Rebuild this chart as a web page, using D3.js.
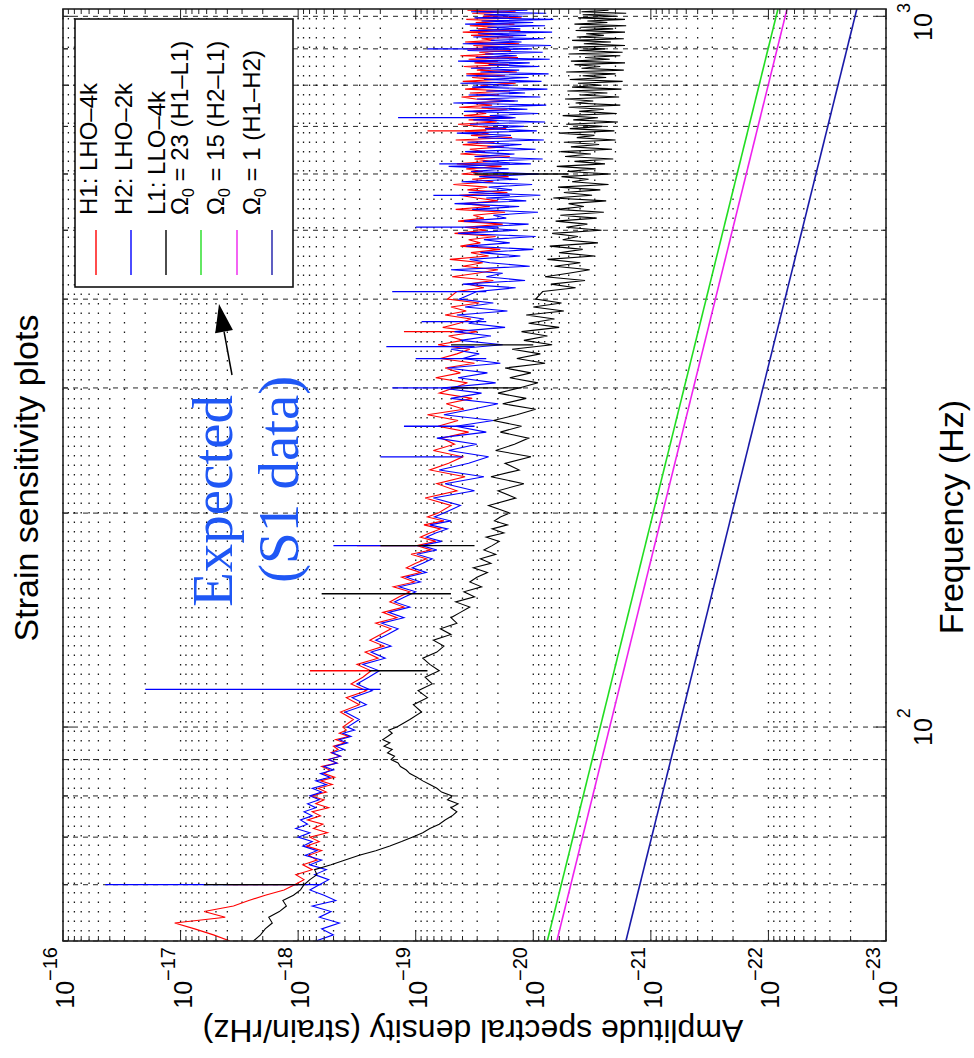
<!DOCTYPE html>
<html>
<head>
<meta charset="utf-8">
<script src="https://cdn.jsdelivr.net/npm/d3@7"></script>
<style>
  body { margin: 0; background: #fff; }
  svg { display: block; }
</style>
</head>
<body>
<svg id="chart" width="974" height="1058"></svg>
<script>
// frequency bins (Hz) shared by the three detector spectra
var freqs = [
  50,51,52,53,54,55,56,57,58,59,60,61,62,63,64,65,66,67,68,69,70,71,72,73,74,75,76,77,78,79,80,
  81,82,83,84,85,86,87,88,89,90,91,92,93,94,95,96,97,98,99,100,
  102.5,105,107.5,110,112.5,115,117.5,120,122.5,125,127.5,130,132.5,135,137.5,140,142.5,145,147.5,150,
  152.5,155,157.5,160,162.5,165,167.5,170,172.5,175,177.5,180,182.5,185,187.5,190,192.5,195,197.5,200,
  205,210,215,220,225,230,235,240,245,250,255,260,265,270,275,280,285,290,295,300,
  305,310,315,320,325,330,335,340,345,350,355,360,365,370,375,380,385,390,395,400,
  410,415,420,425,430,435,440,445,450,455,460,465,470,475,480,485,490,495,500,505,
  510,515,520,525,530,535,540,545,550,555,560,565,570,575,580,585,590,595,600,605,
  610,615,620,625,630,635,640,645,650,655,660,665,670,675,680,685,690,695,700,705,
  710,715,720,725,730,735,740,745,750,755,760,765,770,775,780,785,790,795,800,805,
  810,815,820,825,830,835,840,845,850,855,860,865,870,875,880,885,890,895,900,905,
  910,915,920,925,930,935,940,945,950,955,960,965,970,975,980,985,990,995,1000,1005,
  1010,1015,1020
];

// log10 of amplitude spectral density (strain/rHz), one value per bin
var h1Exp = [
  -17.42,-17.28,-17.12,-16.95,-17.38,-17.20,-17.45,-17.58,-17.72,-17.88,-17.97,-18.05,-17.98,-18.12,-18.04,-18.16,
  -18.09,-18.20,-18.07,-18.18,-18.10,-18.25,-18.13,-18.21,-18.08,-18.19,-18.12,-18.26,-18.15,-18.22,-18.11,-18.24,
  -18.17,-18.29,-18.19,-18.31,-18.22,-18.27,-18.20,-18.33,-18.25,-18.36,-18.28,-18.34,-18.30,-18.40,-18.32,-18.43,
  -18.35,-18.41,-18.38,
  -18.47,-18.36,-18.52,-18.41,-18.58,-18.45,-18.55,-18.62,-18.50,-18.68,-18.57,-18.73,-18.61,-18.70,-18.79,-18.66,
  -18.84,-18.72,-18.90,-18.78,-18.86,-18.95,-18.81,-18.99,-18.88,-19.04,-18.92,-19.00,-19.09,-18.96,-19.13,-19.01,
  -19.17,-19.04,-19.12,-19.21,-19.07,-19.24,-19.10,-19.19,
  -19.30,-19.08,-19.35,-19.18,-19.42,-19.12,-19.28,-19.40,-19.15,-19.33,-19.22,-19.45,-19.19,-19.36,-19.10,-19.41,
  -19.26,-19.48,-19.20,-19.32,-19.44,-19.17,-19.38,-19.25,-19.50,-19.21,-19.35,-19.46,-19.19,-19.40,-19.28,-19.52,
  -19.23,-19.37,-19.47,-19.25,-19.43,-19.30,-19.54,-19.27,
  -19.35,-19.58,-19.44,-19.66,-19.31,-19.52,-19.70,-19.40,-19.57,-19.29,-19.62,-19.47,
  -19.72,-19.38,-19.55,-19.45,-19.68,-19.33,-19.60,-19.42,-19.74,-19.36,-19.58,-19.49,
  -19.76,-19.34,-19.63,-19.41,-19.70,-19.52,-19.37,-19.78,-19.44,-19.61,-19.32,-19.66,
  -19.48,-19.79,-19.39,-19.57,-19.43,-19.73,-19.35,-19.64,-19.50,-19.80,-19.38,-19.59,
  -19.46,-19.75,-19.40,-19.67,-19.34,-19.82,-19.47,-19.62,-19.42,-19.77,-19.53,-19.36,
  -19.69,-19.45,-19.83,-19.41,-19.60,-19.49,-19.78,-19.37,-19.65,-19.44,-19.84,-19.51,
  -19.39,-19.71,-19.46,-19.80,-19.42,-19.63,-19.55,-19.85,-19.40,-19.68,-19.48,-19.76,
  -19.43,-19.86,-19.52,-19.64,-19.41,-19.79,-19.50,-19.70,-19.45,-19.87,-19.38,-19.66,
  -19.54,-19.81,-19.44,-19.72,-19.49,-19.88,-19.42,-19.67,-19.56,-19.83,-19.47,-19.74,
  -19.40,-19.89,-19.53,-19.69,-19.46,-19.84,-19.51,-19.75,-19.43,-19.90,-19.57,-19.71,
  -19.48,-19.85,-19.44
];
var h2Exp = [
  -18.15,-18.30,-18.20,-18.35,-18.18,-18.28,-18.12,-18.32,-18.22,-18.10,-18.18,-18.26,-18.14,-18.24,-18.10,-18.20,
  -18.06,-18.16,-18.04,-18.12,-18.00,-18.10,-17.98,-18.08,-18.02,-18.12,-18.05,-18.15,-18.08,-18.18,-18.10,-18.20,
  -18.12,-18.24,-18.15,-18.27,-18.19,-18.30,-18.22,-18.33,-18.26,-18.36,-18.29,-18.39,-18.32,-18.42,-18.35,-18.45,
  -18.38,-18.48,-18.42,
  -18.52,-18.40,-18.58,-18.46,-18.63,-18.50,-18.60,-18.69,-18.55,-18.74,-18.62,-18.79,-18.66,-18.76,-18.85,-18.71,
  -18.90,-18.77,-18.95,-18.82,-18.91,-19.00,-18.86,-19.04,-18.92,-19.09,-18.97,-19.06,-19.14,-19.01,-19.18,-19.05,
  -19.22,-19.09,-19.17,-19.27,-19.12,-19.30,-19.16,-19.24,
  -19.38,-19.15,-19.50,-19.25,-19.58,-19.20,-19.45,-19.62,-19.28,-19.52,-19.18,-19.60,-19.34,-19.66,-19.24,-19.48,
  -19.70,-19.30,-19.56,-19.22,-19.68,-19.36,-19.61,-19.27,-19.72,-19.40,-19.54,-19.30,-19.74,-19.38,-19.64,-19.33,
  -19.76,-19.45,-19.58,-19.35,-19.78,-19.42,-19.66,-19.37,
  -19.52,-19.85,-19.40,-19.93,-19.60,-19.74,-19.30,-19.97,-19.63,-19.46,-19.89,-19.55,
  -20.00,-19.43,-19.80,-19.58,-20.02,-19.36,-19.86,-19.51,-19.96,-19.41,-19.77,-19.66,
  -20.04,-19.48,-19.88,-19.33,-19.94,-19.60,-20.06,-19.45,-19.82,-19.62,-19.99,-19.39,
  -19.87,-19.54,-20.05,-19.47,-19.79,-19.28,-19.98,-19.57,-20.08,-19.50,-19.84,-19.42,
  -20.02,-19.61,-19.90,-19.44,-20.09,-19.53,-19.81,-19.35,-20.03,-19.59,-19.92,-19.46,
  -20.10,-19.49,-19.85,-19.63,-20.04,-19.41,-19.95,-19.56,-20.11,-19.32,-19.87,-19.52,
  -20.06,-19.45,-19.93,-19.60,-20.12,-19.48,-19.83,-19.38,-20.07,-19.58,-19.96,-19.43,
  -20.13,-19.55,-19.88,-19.47,-20.05,-19.62,-19.97,-19.36,-20.14,-19.51,-19.86,-19.59,
  -20.08,-19.44,-19.99,-19.57,-20.15,-19.40,-19.90,-19.64,-20.09,-19.49,-19.94,-19.53,
  -20.16,-19.46,-19.89,-19.61,-20.10,-19.42,-20.00,-19.56,-20.17,-19.50,-19.91,-19.58,
  -20.11,-19.47,-19.95
];
var l1Exp = [
  -17.62,-17.68,-17.72,-17.78,-17.75,-17.84,-17.90,-17.87,-17.96,-18.02,-18.05,-18.10,-18.16,-18.14,-18.28,-18.40,
  -18.52,-18.66,-18.78,-18.88,-18.97,-19.06,-19.12,-19.20,-19.25,-19.31,-19.35,-19.30,-19.36,-19.27,-19.31,-19.22,
  -19.18,-19.12,-19.06,-19.01,-18.95,-18.92,-18.87,-18.85,-18.79,-18.82,-18.76,-18.80,-18.73,-18.78,-18.72,-18.76,
  -18.80,-18.77,-18.84,
  -18.95,-19.05,-18.98,-19.10,-19.02,-19.14,-19.08,-19.20,-19.12,-19.06,-19.18,-19.24,-19.15,-19.30,-19.21,-19.35,
  -19.30,-19.38,-19.46,-19.34,-19.50,-19.41,-19.56,-19.46,-19.52,-19.61,-19.49,-19.64,-19.55,-19.68,-19.58,-19.65,
  -19.71,-19.60,-19.75,-19.65,-19.78,-19.67,-19.72,-19.80,
  -19.62,-19.85,-19.70,-19.92,-19.64,-19.88,-19.76,-19.98,-19.68,-19.84,-19.96,-19.72,-19.90,-19.66,-19.86,-20.02,
  -19.74,-19.94,-19.70,-19.88,-20.04,-19.80,-19.98,-19.76,-20.10,-19.86,-20.06,-19.82,-20.16,-19.92,-20.12,-19.90,
  -20.22,-19.96,-20.18,-19.94,-20.26,-20.00,-20.24,-20.02,
  -20.08,-20.36,-20.15,-20.44,-20.10,-20.30,-20.48,-20.18,-20.40,-20.12,-20.52,-20.22,
  -20.42,-20.14,-20.55,-20.25,-20.38,-20.16,-20.58,-20.28,-20.46,-20.19,-20.54,-20.23,
  -20.60,-20.20,-20.43,-20.30,-20.62,-20.17,-20.50,-20.26,-20.57,-20.21,-20.64,-20.33,
  -20.47,-20.24,-20.66,-20.29,-20.53,-20.20,-20.61,-20.35,-20.68,-20.27,-20.49,-20.23,
  -20.67,-20.32,-20.56,-20.26,-20.70,-20.37,-20.52,-20.22,-20.69,-20.31,-20.59,-20.28,
  -20.72,-20.34,-20.55,-20.25,-20.71,-20.39,-20.60,-20.30,-20.74,-20.36,-20.51,-20.27,
  -20.73,-20.40,-20.63,-20.29,-20.75,-20.33,-20.58,-20.38,-20.76,-20.31,-20.62,-20.42,
  -20.70,-20.28,-20.77,-20.41,-20.57,-20.35,-20.78,-20.32,-20.65,-20.44,-20.74,-20.30,
  -20.76,-20.39,-20.61,-20.34,-20.78,-20.43,-20.66,-20.33,-20.77,-20.37,-20.60,-20.45,
  -20.78,-20.36,-20.68,-20.40,-20.79,-20.35,-20.63,-20.46,-20.78,-20.38,-20.71,-20.42,
  -20.79,-20.41,-20.64
];

// narrow spectral lines: [frequency, low log10 ASD, high log10 ASD]
var h1Spikes = [[60,-18.0,-17.4],[120,-18.6,-18.1],[180,-19.0,-18.5],[360,-19.4,-18.9],[690,-19.6,-19.1]];
var h2Spikes = [[60,-18.2,-16.36],[113,-18.7,-16.7],[180,-19.1,-18.3],[240,-19.4,-18.7],[300,-19.5,-18.8],
                [343,-19.5,-18.75],[410,-19.6,-18.8],[505,-19.7,-19.0],[720,-19.8,-18.85],[900,-19.8,-19.1],
                [265,-19.5,-18.9],[330,-19.6,-19.0],[372,-19.6,-19.05],[560,-19.8,-19.15],[620,-19.8,-19.2]];
var l1Spikes = [[60,-18.05,-17.2],[120,-19.1,-18.6],[154,-19.3,-18.2],[180,-19.5,-18.7],[300,-19.9,-19.3],
                [345,-20.0,-19.3],[600,-20.3,-19.5]];

// expected stochastic background curves (end points)
var omegaFreqs = [50, 1024];
var omega23 = [7.6e-21, 8.3e-23];
var omega15 = [6.3e-21, 6.95e-23];
var omega1  = [1.63e-21, 1.77e-23];

var legendLabels = ["H1: LHO\u20134k", "H2: LHO\u20132k", "L1: LLO\u20134k",
                    " = 23 (H1\u2013L1)", " = 15 (H2\u2013L1)", " = 1 (H1\u2013H2)"];
var legendColors = ["#ff0000", "#0000ff", "#000000", "#22dd22", "#ee22ee", "#1a1aa8"];

var ampTickVals = [1e-16,1e-17,1e-18,1e-19,1e-20,1e-21,1e-22,1e-23];
var ampTickExps = ["\u221216","\u221217","\u221218","\u221219","\u221220","\u221221","\u221222","\u221223"];
var freqTickVals = [100, 1000];
var freqTickExps = ["2", "3"];

// ---- figure drawn in its own (landscape) frame, then turned a quarter turn ----
var FIG_W = 1058, FIG_H = 974;
var sans = "'Liberation Sans', Arial, Helvetica, sans-serif";
var serif = "'Liberation Serif', 'Times New Roman', serif";

var svg = d3.select("#chart");
svg.append("rect").attr("width", 974).attr("height", 1058).attr("fill", "#fff");

var fig = svg.append("g").attr("transform", "translate(0," + FIG_W + ") rotate(-90)");

var L = 117, R = 1049, T = 63, B = 886;
var x = d3.scaleLog().domain([50, 1024]).range([L, R]);
var y = d3.scaleLog().domain([1e-23, 1e-16]).range([B, T]);

var isDecade = function(v){ return Math.abs(Math.log10(v) - Math.round(Math.log10(v))) < 1e-6; };

// grid
var grid = fig.append("g");
grid.selectAll(".gf").data(x.ticks()).enter().append("line")
  .attr("x1", d => x(d)).attr("x2", d => x(d)).attr("y1", T).attr("y2", B)
  .attr("stroke", "#000").attr("stroke-width", 1).attr("stroke-dasharray", "5,5").attr("opacity", 0.85);
grid.selectAll(".ga").data(y.ticks()).enter().append("line")
  .attr("x1", L).attr("x2", R).attr("y1", d => y(d)).attr("y2", d => y(d))
  .attr("stroke", "#000").attr("stroke-width", 1.3).attr("stroke-dasharray", "1.5,8").attr("opacity", 0.9);

// data
fig.append("clipPath").attr("id", "plotclip").append("rect")
  .attr("x", L).attr("y", T).attr("width", R - L).attr("height", B - T);
var plot = fig.append("g").attr("clip-path", "url(#plotclip)");

var line = d3.line().x(d => x(d[0])).y(d => y(Math.pow(10, d[1])));
function spectrum(vals, spikes, color) {
  var n = Math.min(freqs.length, vals.length);
  var pts = [];
  for (var i = 0; i < n; i++) pts.push([freqs[i], vals[i]]);
  plot.append("path").datum(pts).attr("d", line)
    .attr("fill", "none").attr("stroke", color).attr("stroke-width", 1.1);
  plot.selectAll(null).data(spikes).enter().append("line")
    .attr("x1", d => x(d[0])).attr("x2", d => x(d[0]))
    .attr("y1", d => y(Math.pow(10, d[1]))).attr("y2", d => y(Math.pow(10, d[2])))
    .attr("stroke", color).attr("stroke-width", 1.3);
}
spectrum(h1Exp, h1Spikes, "#ff0000");
spectrum(h2Exp, h2Spikes, "#0000ff");
spectrum(l1Exp, l1Spikes, "#000000");

var straight = d3.line().x(d => x(d[0])).y(d => y(d[1]));
[[omega23, legendColors[3]], [omega15, legendColors[4]], [omega1, legendColors[5]]].forEach(function(s){
  plot.append("path").datum(omegaFreqs.map((f, i) => [f, s[0][i]])).attr("d", straight)
    .attr("fill", "none").attr("stroke", s[1]).attr("stroke-width", 1.6);
});

// ticks (inside, all four sides) and box
var ax = fig.append("g").attr("stroke", "#222");
x.ticks().forEach(function(f){
  var len = isDecade(f) ? 10 : 5;
  ax.append("line").attr("x1", x(f)).attr("x2", x(f)).attr("y1", B).attr("y2", B - len);
  ax.append("line").attr("x1", x(f)).attr("x2", x(f)).attr("y1", T).attr("y2", T + len);
});
y.ticks().forEach(function(a){
  var len = isDecade(a) ? 10 : 5;
  ax.append("line").attr("x1", L).attr("x2", L + len).attr("y1", y(a)).attr("y2", y(a));
  ax.append("line").attr("x1", R).attr("x2", R - len).attr("y1", y(a)).attr("y2", y(a));
});
fig.append("rect").attr("x", L).attr("y", T).attr("width", R - L).attr("height", B - T)
  .attr("fill", "none").attr("stroke", "#222").attr("stroke-width", 1.6);

// tick labels
fig.selectAll(".al").data(ampTickVals).enter().append("text")
  .attr("x", 111).attr("y", d => y(d) + 11).attr("text-anchor", "end")
  .attr("font-family", sans).attr("fill", "#000")
  .each(function(d, i){
    var t = d3.select(this);
    t.append("tspan").attr("font-size", 25).text("10");
    t.append("tspan").attr("font-size", 20).attr("dy", -17).text(ampTickExps[i]);
  });
fig.selectAll(".fl").data(freqTickVals).enter().append("text")
  .attr("x", d => Math.min(x(d), 1036)).attr("y", 932).attr("text-anchor", "middle")
  .attr("font-family", sans).attr("fill", "#000")
  .each(function(d, i){
    var t = d3.select(this);
    t.append("tspan").attr("font-size", 25).text("10");
    t.append("tspan").attr("font-size", 18).attr("dy", -22).text(freqTickExps[i]);
  });

// titles
fig.append("text").attr("x", 580).attr("y", 38).attr("text-anchor", "middle")
  .attr("font-family", sans).attr("font-size", 34).text("Strain sensitivity plots");
fig.append("text").attr("x", 541).attr("y", 963).attr("text-anchor", "middle")
  .attr("font-family", sans).attr("font-size", 34).text("Frequency (Hz)");
fig.append("text").attr("transform", "translate(38,473) rotate(-90)").attr("text-anchor", "middle")
  .attr("font-family", sans).attr("font-size", 32).text("Amplitude spectral density (strain/rHz)");

// legend
var lg = fig.append("g");
lg.append("rect").attr("x", 771).attr("y", 75).attr("width", 268).attr("height", 218)
  .attr("fill", "#fff").attr("stroke", "#111").attr("stroke-width", 1.6);
var rowY = [96, 131, 166, 201, 237, 272];
var textY = [97, 132, 165, 188, 224, 260];
legendLabels.forEach(function(lbl, i){
  lg.append("line").attr("x1", 783).attr("x2", 828).attr("y1", rowY[i]).attr("y2", rowY[i])
    .attr("stroke", legendColors[i]).attr("stroke-width", 1.4);
  var t = lg.append("text").attr("x", 843).attr("y", textY[i])
    .attr("font-family", sans).attr("font-size", 24).attr("fill", "#000");
  if (i < 3) {
    t.text(lbl);
  } else {
    t.append("tspan").text("\u03A9");
    t.append("tspan").attr("font-size", 16).attr("dy", 6).text("0");
    t.append("tspan").attr("dy", -6).text(lbl);
  }
});

// annotation
var blue = "#1f57f5";
fig.append("text").attr("x", 451).attr("y", 232).attr("font-family", serif)
  .attr("font-size", 57).attr("fill", blue).text("Expected");
fig.append("text").attr("x", 475).attr("y", 298).attr("font-family", serif)
  .attr("font-size", 57).attr("fill", blue).text("(S1 data)");
var tail = [683, 232], tip = [754, 219];
var dx = tip[0] - tail[0], dy = tip[1] - tail[1], len = Math.sqrt(dx*dx + dy*dy);
var ux = dx / len, uy = dy / len, hl = 28, hw = 9;
fig.append("line").attr("x1", tail[0]).attr("y1", tail[1])
  .attr("x2", tip[0] - ux*hl).attr("y2", tip[1] - uy*hl).attr("stroke", "#000").attr("stroke-width", 1.5);
fig.append("path").attr("fill", "#000").attr("d",
  "M" + tip[0] + "," + tip[1] +
  "L" + (tip[0] - ux*hl - uy*hw) + "," + (tip[1] - uy*hl + ux*hw) +
  "L" + (tip[0] - ux*hl + uy*hw) + "," + (tip[1] - uy*hl - ux*hw) + "Z");
</script>
</body>
</html>
